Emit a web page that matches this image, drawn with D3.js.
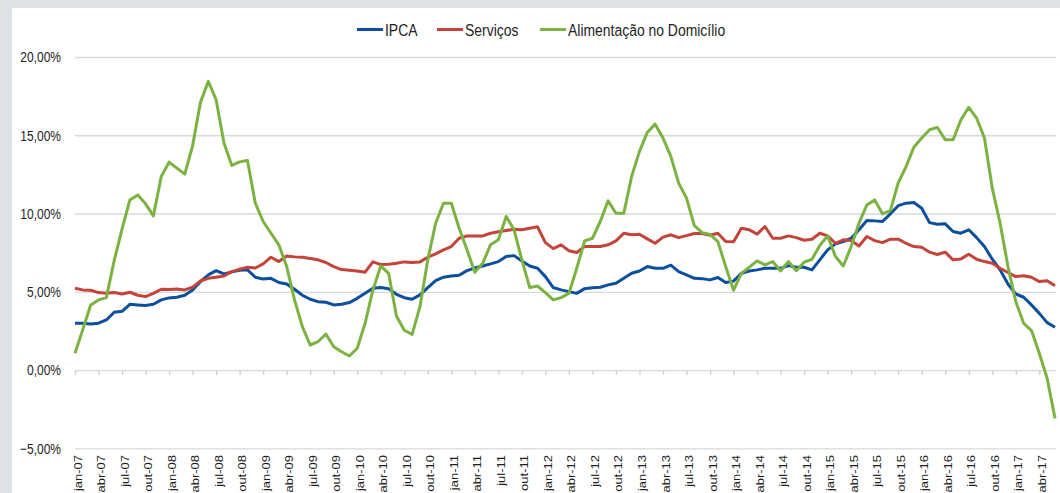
<!DOCTYPE html>
<html>
<head>
<meta charset="utf-8">
<script src="https://cdn.jsdelivr.net/npm/d3@7"></script>
<style>
  body { margin: 0; background: #dde2e7; }
  svg { display: block; font-family: "Liberation Sans", Arial, sans-serif; }
</style>
</head>
<body>
<div id="chart"></div>
<script>
// ------------------- //
// DATA
// ------------------- //

// monthly values, jan-07 .. jun-17 (12-month change, %)
var ipca = [
  2.99, 2.99, 2.94, 2.99, 3.20, 3.69, 3.75, 4.20, 4.16, 4.12, 4.20, 4.48, 4.61, 4.65, 4.78, 5.12, 5.65, 6.08, 6.35, 6.14, 6.27, 6.38,
  6.40, 5.93, 5.82, 5.86, 5.59, 5.50, 5.16, 4.78, 4.52, 4.37, 4.33, 4.16, 4.20, 4.31, 4.58, 4.90, 5.22, 5.27, 5.20, 4.84, 4.62,
  4.52, 4.80, 5.27, 5.71, 5.93, 6.01, 6.06, 6.35, 6.52, 6.65, 6.78, 6.93, 7.25, 7.31, 6.97, 6.65, 6.50, 5.97, 5.27, 5.12, 5.01,
  4.90, 5.20, 5.25, 5.29, 5.44, 5.54, 5.86, 6.18, 6.33, 6.61, 6.50, 6.50, 6.70, 6.29, 6.08, 5.86, 5.84, 5.76, 5.91, 5.59, 5.68,
  6.18, 6.33, 6.40, 6.50, 6.50, 6.50, 6.67, 6.57, 6.57, 6.40, 7.04, 7.68, 8.06, 8.21, 8.42, 8.96, 9.55, 9.53, 9.49, 9.98, 10.50,
  10.66, 10.70, 10.34, 9.42, 9.32, 9.34, 8.85, 8.74, 8.96, 8.46, 7.89, 7.08, 6.40, 5.50, 4.86, 4.65, 4.16, 3.62, 3.03, 2.73
]

var servicos = [
  5.22, 5.12, 5.10, 4.95, 4.90, 4.95, 4.86, 4.97, 4.78, 4.69, 4.90, 5.16, 5.14, 5.18, 5.12, 5.29, 5.69, 5.86, 5.93, 6.01, 6.29, 6.44,
  6.57, 6.52, 6.78, 7.21, 6.93, 7.29, 7.23, 7.21, 7.12, 7.04, 6.87, 6.61, 6.42, 6.38, 6.33, 6.25, 6.91, 6.74, 6.76, 6.82, 6.91,
  6.87, 6.91, 7.21, 7.42, 7.68, 7.89, 8.42, 8.57, 8.57, 8.57, 8.74, 8.83, 8.91, 9.00, 8.96, 9.06, 9.15, 8.14, 7.76, 8.00, 7.62,
  7.51, 7.89, 7.89, 7.89, 8.00, 8.25, 8.74, 8.64, 8.68, 8.38, 8.10, 8.49, 8.64, 8.46, 8.59, 8.72, 8.72, 8.61, 8.74, 8.21, 8.19,
  9.06, 8.96, 8.68, 9.17, 8.42, 8.42, 8.57, 8.46, 8.29, 8.36, 8.74, 8.57, 8.10, 8.32, 8.27, 7.93, 8.53, 8.27, 8.14, 8.36, 8.36,
  8.10, 7.89, 7.85, 7.53, 7.38, 7.53, 7.04, 7.10, 7.40, 7.08, 6.93, 6.82, 6.50, 6.23, 5.97, 6.03, 5.93, 5.65, 5.71, 5.39
]

var alimentacao = [
  1.07, 2.60, 4.16, 4.48, 4.63, 7.00, 9.00, 10.87, 11.19, 10.62, 9.85, 12.37, 13.28, 12.90, 12.52, 14.33, 17.10, 18.44, 17.27, 14.50, 13.07, 13.30,
  13.39, 10.66, 9.49, 8.74, 8.00, 6.61, 4.48, 2.77, 1.60, 1.81, 2.30, 1.49, 1.17, 0.90, 1.39, 2.99, 5.12, 6.65, 6.18, 3.45, 2.54,
  2.28, 4.05, 7.04, 9.38, 10.66, 10.66, 9.06, 7.68, 6.25, 6.82, 8.00, 8.32, 9.81, 8.96, 7.04, 5.27, 5.37, 4.95, 4.48, 4.63, 4.90,
  6.50, 8.25, 8.42, 9.49, 10.81, 10.02, 10.02, 12.37, 13.97, 15.18, 15.71, 14.82, 13.65, 11.94, 10.98, 9.23, 8.78, 8.66, 8.21, 6.61, 5.10,
  6.18, 6.57, 6.97, 6.72, 6.93, 6.33, 6.93, 6.35, 6.89, 7.08, 7.96, 8.57, 7.25, 6.65, 7.89, 9.38, 10.55, 10.87, 9.98, 10.19, 11.95,
  13.00, 14.24, 14.82, 15.35, 15.50, 14.71, 14.71, 15.99, 16.78, 16.10, 14.82, 11.62, 9.38, 6.61, 4.37, 2.99, 2.52, 1.07, -0.53, -3.09
]

// one label every quarter, starting at jan-07
var tickLabels = [
  "jan-07", "abr-07", "jul-07", "out-07", "jan-08", "abr-08", "jul-08", "out-08",
  "jan-09", "abr-09", "jul-09", "out-09", "jan-10", "abr-10", "jul-10", "out-10",
  "jan-11", "abr-11", "jul-11", "out-11", "jan-12", "abr-12", "jul-12", "out-12",
  "jan-13", "abr-13", "jul-13", "out-13", "jan-14", "abr-14", "jul-14", "out-14",
  "jan-15", "abr-15", "jul-15", "out-15", "jan-16", "abr-16", "jul-16", "out-16",
  "jan-17", "abr-17"
]

var yTicks = [20, 15, 10, 5, 0, -5]

var seriesNames = ["IPCA", "Serviços", "Alimentação no Domicílio"]
var seriesColors = ["#0b4f9e", "#c4443a", "#7bb241"]
var seriesValues = [ipca, servicos, alimentacao]


// ------------------- //
// SVG
// ------------------- //

var W = 1060, H = 493
var svg = d3.select("#chart")
  .append("svg")
    .attr("width", W)
    .attr("height", H)

// grey frame + white panel
svg.append("rect")
    .attr("width", W).attr("height", H)
    .attr("fill", "#dde2e7")
svg.append("rect")
    .attr("x", 12).attr("y", 8)
    .attr("width", W - 12).attr("height", H - 8)
    .attr("fill", "#ffffff")

// text in the picture is a bit squeezed horizontally
var squeeze = 0.8


// ------------------- //
// AXIS AND SCALES
// ------------------- //

var x = d3.scaleLinear()
    .domain([0, ipca.length - 1])
    .range([75, 1055])

var y = d3.scaleLinear()
    .domain([-5, 20])
    .range([448.3, 57])

// horizontal grid
svg.append("g")
    .attr("transform", "translate(75,0)")
    .call(d3.axisLeft(y).tickValues(yTicks).tickSize(-981).tickFormat(""))
    .call(function(g) { g.select(".domain").remove() })
    .selectAll("line")
      .attr("stroke", "#d9d9d9")
      .attr("stroke-width", 1.3)

// y labels
svg.selectAll(".ylab")
  .data(yTicks)
  .enter()
  .append("text")
    .attr("class", "ylab")
    .attr("transform", function(d) { return "translate(61," + y(d) + ") scale(" + squeeze + ",1)" })
    .attr("dy", "0.36em")
    .attr("text-anchor", "end")
    .style("font-size", "15px")
    .style("fill", "#1e1e1e")
    .text(function(d) { return d3.format(".2f")(d).replace(".", ",") + "%" })

// quarter ticks on the zero line
var tickIdx = tickLabels.map(function(d, i) { return i * 3 })
svg.append("g")
    .attr("transform", "translate(0," + y(0) + ")")
    .call(d3.axisBottom(x).tickValues(tickIdx).tickSize(5).tickFormat(""))
    .call(function(g) { g.select(".domain").remove() })
    .selectAll("line")
      .attr("stroke", "#cfcfcf")
      .attr("stroke-width", 1.3)

// x labels, rotated, at the bottom
svg.selectAll(".xlab")
  .data(tickLabels)
  .enter()
  .append("text")
    .attr("class", "xlab")
    .attr("transform", function(d, i) {
      return "translate(" + (x(i * 3) + 6.5) + ",455) scale(0.9,1) rotate(-90)"
    })
    .attr("text-anchor", "end")
    .style("font-size", "13px")
    .style("fill", "#1e1e1e")
    .text(function(d) { return d })


// ------------------- //
// LINES
// ------------------- //

var line = d3.line()
    .x(function(d, i) { return x(i) })
    .y(function(d) { return y(d) })

seriesValues.forEach(function(vals, k) {
  svg.append("path")
      .datum(vals)
      .attr("fill", "none")
      .attr("stroke", seriesColors[k])
      .attr("stroke-width", 3)
      .attr("stroke-linejoin", "round")
      .attr("d", line)
})


// ------------------- //
// LEGEND
// ------------------- //

var legendX = [357, 437, 540]
seriesNames.forEach(function(name, k) {
  svg.append("line")
      .attr("x1", legendX[k]).attr("x2", legendX[k] + 26)
      .attr("y1", 29.5).attr("y2", 29.5)
      .attr("stroke", seriesColors[k])
      .attr("stroke-width", 3)
  svg.append("text")
      .attr("transform", "translate(" + (legendX[k] + 28) + ",35.5) scale(0.82,1)")
      .style("font-size", "17px")
      .style("fill", "#1e1e1e")
      .text(name)
})
</script>
</body>
</html>
